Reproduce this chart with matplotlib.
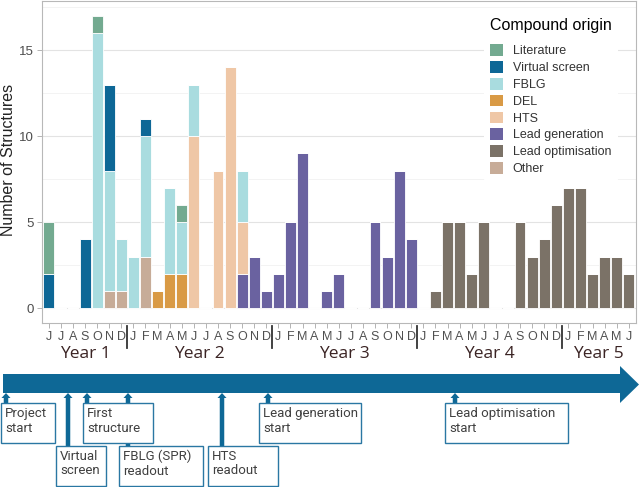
import numpy as np
import matplotlib
matplotlib.use('Agg')
import matplotlib.pyplot as plt
from matplotlib.patches import Patch, Polygon, Rectangle, FancyArrow
from matplotlib.transforms import blended_transform_factory

plt.rcParams['font.family'] = ['Liberation Sans', 'DejaVu Sans']

# months from June Year 1 to June Year 5
months = list('JJASOND') + list('JFMAMJJASOND') * 3 + list('JFMAMJ')
years = ['Year 1', 'Year 2', 'Year 3', 'Year 4', 'Year 5']
year_months = [7, 12, 12, 12, 6]

Z12 = [0] * 12
# structures per month, by compound origin (Y1: Jun-Dec, Y2-Y4: Jan-Dec, Y5: Jan-Jun)
literature = [3, 0, 0, 0, 1, 0, 0] + [0, 0, 0, 0, 1, 0, 0, 0, 0, 0, 0, 0] + Z12 + Z12 + [0] * 6
virtual_screen = [2, 0, 0, 4, 0, 5, 0] + [0, 1, 0, 0, 0, 0, 0, 0, 0, 0, 0, 0] + Z12 + Z12 + [0] * 6
fblg = [0, 0, 0, 0, 16, 7, 3] + [3, 7, 0, 5, 3, 3, 0, 0, 0, 3, 0, 0] + Z12 + Z12 + [0] * 6
del_ = [0] * 7 + [0, 0, 1, 2, 2, 0, 0, 0, 0, 0, 0, 0] + Z12 + Z12 + [0] * 6
hts = [0] * 7 + [0, 0, 0, 0, 0, 10, 0, 8, 14, 3, 0, 0] + Z12 + Z12 + [0] * 6
lead_gen = [0] * 7 + [0, 0, 0, 0, 0, 0, 0, 0, 0, 2, 3, 1] + [2, 5, 9, 0, 1, 2, 0, 0, 5, 3, 8, 4] + Z12 + [0] * 6
lead_opt = [0] * 7 + Z12 + Z12 + [0, 1, 5, 5, 2, 5, 0, 0, 5, 3, 4, 6] + [7, 7, 2, 3, 3, 2]
other = [0, 0, 0, 0, 0, 1, 1] + [0, 3, 0, 0, 0, 0, 0, 0, 0, 0, 0, 0] + Z12 + Z12 + [0] * 6

legend_labels = ['Literature', 'Virtual screen', 'FBLG', 'DEL', 'HTS',
                 'Lead generation', 'Lead optimisation', 'Other']
series = [literature, virtual_screen, fblg, del_, hts, lead_gen, lead_opt, other]
colors = ['#73aa90', '#0d6796', '#a9dcdf', '#d99a45', '#efc7a6',
          '#6a62a0', '#7b7267', '#c7ac98']

milestones = ['Project\nstart', 'Virtual\nscreen', 'First\nstructure', 'FBLG (SPR)\nreadout',
              'HTS\nreadout', 'Lead generation\nstart', 'Lead optimisation\nstart']

W, H = 640, 487
fig = plt.figure(figsize=(6.4, 4.87), dpi=100)
ax = fig.add_axes([41.6 / W, 1 - 323 / H, (636 - 41.6) / W, (323 - 1) / H])

x = np.arange(len(months))
bottom = np.zeros(len(months))
# ggplot stacks the first level on top, so draw from the last one up
for vals, col in zip(series[::-1], colors[::-1]):
    vals = np.array(vals)
    ax.bar(x, vals, bottom=bottom, width=0.9, color=col, edgecolor='white', linewidth=0.6, zorder=3)
    bottom += vals

ax.set_xlim(-0.6, len(months) - 0.4)
ax.set_ylim(-0.85, 17.85)
ax.set_yticks([0, 5, 10, 15])
ax.set_yticks([2.5, 7.5, 12.5, 17.5], minor=True)
ax.grid(axis='y', which='major', color='#e3e3e3', linewidth=0.8, zorder=0)
ax.grid(axis='y', which='minor', color='#efefef', linewidth=0.5, zorder=0)
ax.set_xticks(x)
ax.set_xticklabels(months, fontsize=9, color='#505050')
ax.tick_params(axis='both', which='major', length=3.5, color='#b3b3b3', width=0.7, pad=2)
ax.tick_params(axis='y', which='minor', length=0)
ax.tick_params(axis='y', labelsize=9.5, labelcolor='#4d4d4d')
for s in ax.spines.values():
    s.set_color('#b8b8b8')
    s.set_linewidth(0.8)
ax.set_ylabel('Number of Structures', fontsize=11.5, color='#222222')
ax.yaxis.set_label_coords(-26 / 594.4, 0.505)

# year separators and year labels under the month axis
trans = blended_transform_factory(ax.transData, ax.transAxes)
start = 0
for i, (yr, n) in enumerate(zip(years, year_months)):
    if i > 0:
        ax.plot([start - 0.5, start - 0.5], [-0.01, -0.078], transform=trans,
                color='#333333', linewidth=1.3, clip_on=False)
    ax.text(start + (n - 1) / 2, -0.097, yr, transform=trans, ha='center', va='center',
            fontsize=12.5, color='#3a2323', family=['Open Sans', 'DejaVu Sans'])
    start += n

handles = [Patch(facecolor=c, edgecolor='none') for c in colors]
leg = ax.legend(handles, legend_labels, title='Compound origin', loc='upper left',
                bbox_to_anchor=(484 / W, 1 - 12 / H), bbox_transform=fig.transFigure,
                fontsize=9, title_fontsize=11.5, frameon=True, facecolor='white',
                edgecolor='none', framealpha=1, alignment='left',
                handlelength=1.05, handleheight=1.05, labelspacing=0.3,
                handletextpad=0.75, borderpad=0.5, borderaxespad=0)
leg._legend_box.sep = 8
leg.set_zorder(5)
for t in leg.get_texts():
    t.set_color('#333333')

# timeline drawn in pixel coordinates
tl = fig.add_axes([0, 0, 1, 1])
tl.set_xlim(0, W)
tl.set_ylim(H, 0)
tl.axis('off')
tl.patch.set_alpha(0)

blue = '#0e6896'
tl.add_patch(Polygon([(3, 374), (620, 374), (620, 366), (639, 384.5), (620, 403), (620, 393), (3, 393)],
                     closed=True, facecolor=blue, edgecolor='none'))

arrow_x = [6, 68, 87, 128, 222, 268, 455]
boxes = [(1, 403, 55, 443), (56, 446, 106, 486), (83, 403, 153, 443), (119, 446, 203, 486),
         (208, 446, 278, 486), (259, 403, 361, 443), (445, 403, 568, 443)]
for ax_x, (x0, y0, x1, y1) in zip(arrow_x, boxes):
    tl.add_patch(FancyArrow(ax_x, y0, 0, 393 - y0, width=4.5, head_width=9, head_length=5,
                            length_includes_head=True, color=blue, linewidth=0, zorder=1))
for label, (x0, y0, x1, y1) in zip(milestones, boxes):
    tl.add_patch(Rectangle((x0, y0), x1 - x0, y1 - y0, facecolor='white',
                           edgecolor='#2a77a3', linewidth=1, zorder=2))
    tl.text(x0 + 4, y0 + 4, label, ha='left', va='top', fontsize=9.5, color='#404040',
            linespacing=1.15, family=['Roboto', 'DejaVu Sans'], zorder=3)

fig.savefig('out.png', dpi=100)
